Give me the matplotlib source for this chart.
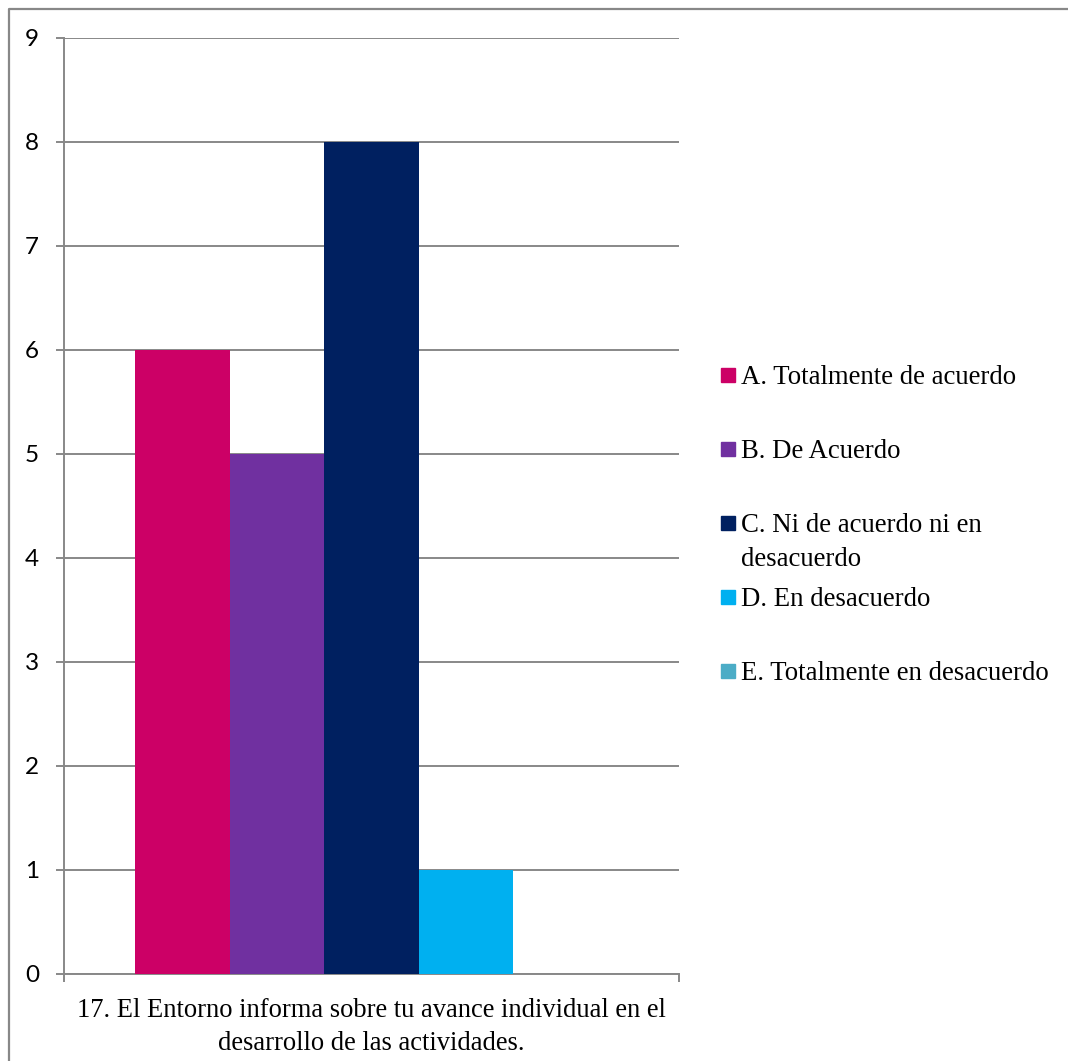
import matplotlib.pyplot as plt
from matplotlib.lines import Line2D
from matplotlib.patches import Rectangle

categorias = ["A. Totalmente de acuerdo", "B. De Acuerdo",
              "C. Ni de acuerdo ni en\ndesacuerdo", "D. En desacuerdo",
              "E. Totalmente en desacuerdo"]
valores = [6, 5, 8, 1, 0]
colores = ["#CC0066", "#7030A0", "#002060", "#00B0F0", "#4BACC6"]
pregunta = ("17. El Entorno informa sobre tu avance individual en el\n"
            "desarrollo de las actividades.")
yticks = list(range(0, 10))

W, H = 1068, 1061
fig = plt.figure(figsize=(W / 100, H / 100), dpi=100)
gris = "#888888"

# marco exterior (solo se ven el borde superior e izquierdo)
fig.lines.append(Line2D([9 / W, 9 / W, 1.0], [0.0, 1 - 9 / H, 1 - 9 / H],
                        transform=fig.transFigure, color=gris, linewidth=1.6))

ax = fig.add_axes([64 / W, 1 - 974 / H, 615 / W, 936 / H])
posiciones = list(range(len(valores)))
ax.bar(posiciones, valores, width=1.0, color=colores, zorder=3)

ax.set_xlim(-1.25, 5.25)
ax.set_ylim(0, 9)
ax.set_yticks(yticks)
ax.set_yticklabels([str(v) for v in yticks], fontfamily="Lato", fontsize=17.5)
ax.set_xticks([])
ax.set_xticks([-1.25, 5.25], minor=True)
ax.tick_params(axis="x", which="minor", length=6, width=1.4, color=gris,
               labelbottom=False)
ax.tick_params(axis="y", length=6, width=1.4, color=gris, pad=12)
ax.grid(axis="y", color=gris, linewidth=1.4, zorder=0)
for lado in ["top", "right"]:
    ax.spines[lado].set_visible(False)
for lado in ["left", "bottom"]:
    ax.spines[lado].set_color(gris)
    ax.spines[lado].set_linewidth(1.4)

ax.set_xlabel(pregunta, fontfamily="Liberation Serif", fontsize=19.1,
              labelpad=11, linespacing=1.42)

# leyenda al estilo Excel
y0 = 375
for i, (lab, col) in enumerate(zip(categorias, colores)):
    yc = y0 + i * 74
    fig.patches.append(Rectangle((721 / W, 1 - (yc + 7) / H), 14 / W, 14 / H,
                                 transform=fig.transFigure, color=col))
    fig.text(741 / W, 1 - (yc - 10) / H, lab, fontfamily="Liberation Serif",
             fontsize=19.3, va="top", ha="left", linespacing=1.45)

plt.savefig("out.png", dpi=100)
